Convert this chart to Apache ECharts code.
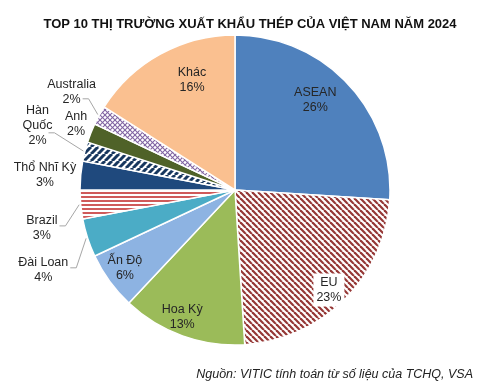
<!DOCTYPE html>
<html><head><meta charset="utf-8">
<script src="https://cdn.jsdelivr.net/npm/echarts/dist/echarts.min.js"></script>
<style>html,body{margin:0;padding:0;background:#fff}#c{width:500px;height:389px}</style>
</head><body><div id="c"></div><script>
// ---- data ----
const categories = ['ASEAN', 'EU', 'Hoa Kỳ', 'Ấn Độ', 'Đài Loan', 'Brazil', 'Thổ Nhĩ Kỳ', 'Hàn Quốc', 'Anh', 'Australia', 'Khác'];
const shares = [26, 23, 13, 6, 4, 3, 3, 2, 2, 2, 16];
const labelNames = ['ASEAN', 'EU', 'Hoa Kỳ', 'Ấn Độ', 'Đài Loan', 'Brazil', 'Thổ Nhĩ Kỳ', 'Hàn\nQuốc', 'Anh', 'Australia', 'Khác'];
const titleText = 'TOP 10 THỊ TRƯỜNG XUẤT KHẨU THÉP CỦA VIỆT NAM NĂM 2024';
const sourceText = 'Nguồn: VITIC tính toán từ số liệu của TCHQ, VSA';

// ---- styling / label layout (not data) ----
const labelRadius = [0.78, 0.885, 0.89, 0.87, 1.34, 1.27, 1.23, 1.34, 1.11, 1.23, 0.76];
const labelTurn = [-5.2, 1.8, 2.7, 0.7, -4.6, -5.7, -0.9, 3.6, 0.9, 2.2, 7.4];
const leaderRow = [0, 0, 0, 0, 'top', 'top', 0, 'bottom', 0, 'bottom', 0];
const LABEL_FONT = 12.5;

function pattern(w, h, draw) {
  const c = document.createElement('canvas');
  c.width = w; c.height = h;
  const g = c.getContext('2d');
  g.fillStyle = '#fff'; g.fillRect(0, 0, w, h);
  draw(g, w, h);
  return { image: c, repeat: 'repeat' };
}
const euPat = pattern(6, 6, (g, w, h) => {
  g.strokeStyle = '#953735'; g.lineWidth = 2.2;
  for (let k = -w; k <= w; k += w) { g.beginPath(); g.moveTo(k, 0); g.lineTo(k + w, h); g.stroke(); }
});
const hqPat = pattern(7, 7, (g, w, h) => {
  g.strokeStyle = '#17375e'; g.lineWidth = 3;
  for (let k = -w; k <= w; k += w) { g.beginPath(); g.moveTo(k, h); g.lineTo(k + w, 0); g.stroke(); }
});
const ausPat = pattern(5, 5, (g, w, h) => {
  g.strokeStyle = '#8064a2'; g.lineWidth = 1.1;
  for (let k = -w; k <= w; k += w) {
    g.beginPath(); g.moveTo(k, 0); g.lineTo(k + w, h); g.stroke();
    g.beginPath(); g.moveTo(k, h); g.lineTo(k + w, 0); g.stroke();
  }
});
const brPat = pattern(4, 4, (g, w, h) => {
  g.fillStyle = '#cf5a5a'; g.fillRect(0, 0, w, 2);
});
const colors = ['#4f81bd', euPat, '#9bbb59', '#8db3e2', '#4bacc6', brPat, '#1f497d', hqPat, '#4f6228', ausPat, '#fac090'];

const measureCtx = document.createElement('canvas').getContext('2d');
measureCtx.font = LABEL_FONT + 'px "Liberation Sans", Arial, sans-serif';

const chart = echarts.init(document.getElementById('c'));
chart.setOption({
  animation: false,
  backgroundColor: '#fff',
  title: [
    { text: titleText, left: 'center', top: 12,
      textStyle: { fontFamily: '"Liberation Sans", Arial, sans-serif', fontSize: 13, fontWeight: 'bold', color: '#111', lineHeight: 15 } },
    { text: sourceText, right: 22, top: 363,
      textStyle: { fontFamily: '"Liberation Sans", Arial, sans-serif', fontSize: 12.5, fontStyle: 'italic', fontWeight: 'normal', color: '#222', lineHeight: 14 } }
  ],
  series: [{
    type: 'pie',
    center: [235, 190],
    radius: 155,
    startAngle: 90,
    clockwise: true,
    avoidLabelOverlap: false,
    itemStyle: { borderColor: '#fff', borderWidth: 1.5 },
    label: {
      show: true, position: 'outside',
      fontFamily: '"Liberation Sans", Arial, sans-serif', fontSize: LABEL_FONT, color: '#262626', lineHeight: 15,
      formatter: p => labelNames[p.dataIndex] + '\n' + p.value + '%'
    },
    labelLine: { show: true, lineStyle: { color: '#a6a6a6', width: 1 } },
    emphasis: { disabled: true },
    data: categories.map((name, i) => ({
      name, value: shares[i],
      itemStyle: { color: colors[i] },
      label: i === 1 ? { backgroundColor: '#fff', padding: [2, 3, 1, 3] } : {},
      labelLine: { show: !!leaderRow[i] }
    })),
    labelLayout: function (p) {
      const i = p.dataIndex;
      const lay = chart.getModel().getSeriesByIndex(0).getData().getItemLayout(i);
      const mid = (lay.startAngle + lay.endAngle) / 2;
      const a = mid + labelTurn[i] * Math.PI / 180;
      const x = lay.cx + labelRadius[i] * lay.r * Math.cos(a);
      const y = lay.cy + labelRadius[i] * lay.r * Math.sin(a);
      const out = { x: x, y: y, align: 'center', verticalAlign: 'middle' };
      if (leaderRow[i]) {
        const ex = lay.cx + lay.r * 1.01 * Math.cos(mid), ey = lay.cy + lay.r * 1.01 * Math.sin(mid);
        let lx, ly;
        if (leaderRow[i] === 'top') {
          const w = measureCtx.measureText(categories[i]).width;
          lx = x + w / 2 + 2; ly = y - 2;
        } else {
          const w = measureCtx.measureText(shares[i] + '%').width;
          lx = x + w / 2 + 2; ly = y + 7;
        }
        out.labelLinePoints = [[ex, ey], [lx + 6, ly], [lx, ly]];
      }
      return out;
    }
  }]
});
</script></body></html>
